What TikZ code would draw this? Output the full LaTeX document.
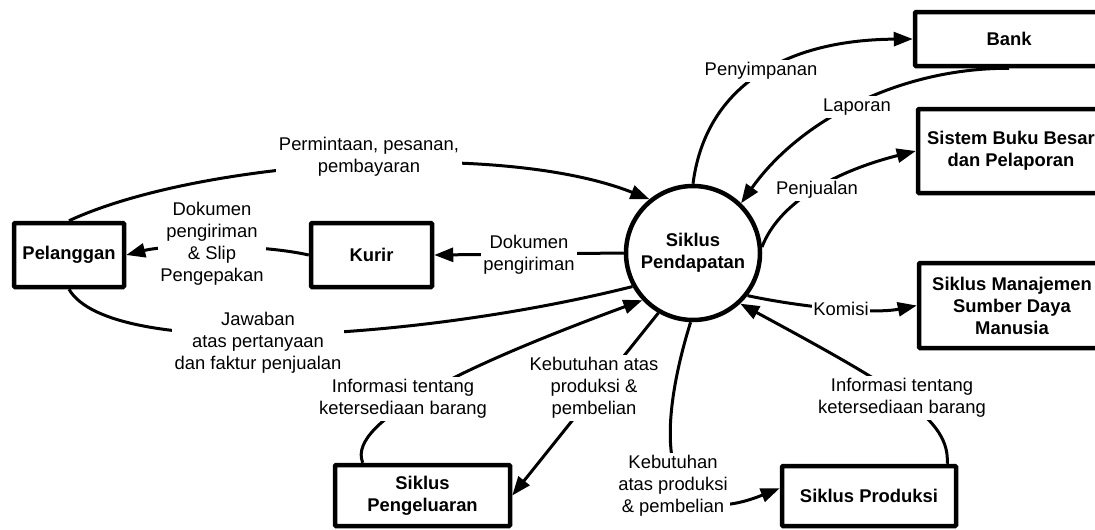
\documentclass[tikz,border=0pt]{standalone}
\usepackage{fontspec}
\setmainfont{Liberation Sans}
\usetikzlibrary{arrows.meta}
\begin{document}
\begin{tikzpicture}[x=1pt,y=-1pt,
  box/.style={draw, line width=4.5pt, rounded corners=1pt, align=center, inner sep=0pt,
    font=\bfseries\fontsize{18.4}{22}\selectfont},
  proc/.style={circle, draw, line width=4.5pt, minimum size=134pt, inner sep=0pt, align=center,
    font=\bfseries\fontsize{18.4}{22}\selectfont},
  lbl/.style={fill=white, inner sep=2.5pt, align=center, font=\fontsize{18.4}{22}\selectfont},
  flow/.style={line width=3pt, -{Triangle[length=19pt,width=14pt]}},
  plainflow/.style={line width=3pt}
]
\useasboundingbox (0,0) rectangle (1095,530);

% entities
\node[box, minimum width=110pt, minimum height=64pt] (pel) at (69,255) {Pelanggan};
\node[box, minimum width=121pt, minimum height=64pt] (kurir) at (371.5,255) {Kurir};
\node[box, minimum width=188pt, minimum height=54pt] (bank) at (1009,39) {Bank};
\node[box, minimum width=186pt, minimum height=84pt] (sbb) at (1011,151) {Sistem Buku Besar\\dan Pelaporan};
\node[box, minimum width=186pt, minimum height=85pt] (sdm) at (1012,305.5) {Siklus Manajemen\\Sumber Daya\\Manusia};
\node[box, minimum width=174pt, minimum height=60pt] (prod) at (869,496) {Siklus Produksi};
\node[box, minimum width=175pt, minimum height=61pt] (peng) at (422.5,495.5) {Siklus\\Pengeluaran};
\node[proc] (circ) at (693,253) {Siklus\\Pendapatan};

% connectors
\draw[flow] (circ.90) .. controls (705,90) and (780,40) .. (bank.west);
\draw[flow] (bank.south) .. controls (900,68) and (800,120) .. (circ.46);
\draw[flow] (circ.5) .. controls (780,200) and (840,170) .. (sbb.west);
\draw[flow] (circ.-38) .. controls (790,305) and (870,315) .. (sdm.west);
\draw[flow] ([xshift=-11pt]prod.north east) .. controls (950,420) and (900,390) .. (circ.-47);
\draw[flow] (circ.-92) .. controls (660,420) and (650,540) .. (prod.175);
\draw[flow] (circ.-120) -- (peng.east);
\draw[flow] ([xshift=30pt]peng.north west) .. controls (345,420) and (480,360) .. (circ.-137);
\draw[plainflow] (pel.south) .. controls (110,360) and (420,340) .. (circ.209);
\draw[flow] (pel.north) .. controls (200,160) and (500,140) .. (circ.129);
\draw[flow] (circ.west) -- (kurir.east);
\draw[flow] (kurir.west) .. controls (260,244) and (170,244) .. (pel.east);

% labels
\node[lbl] (lpeny) at (761,71) {Penyimpanan};
\node[lbl] (llap) at (857,107) {Laporan};
\node[lbl] (lpenj) at (817,190) {Penjualan};
\node[lbl, inner sep=1.5pt] (lkom) at (841,309) {Komisi};
\node[lbl] (linfor) at (902,398) {Informasi tentang\\ketersediaan barang};
\node[lbl] (lkebb) at (673,486) {Kebutuhan\\atas produksi\\\& pembelian};
\node[lbl] (lkebm) at (594,388) {Kebutuhan atas\\produksi \&\\pembelian};
\node[lbl] (linfol) at (403,399) {Informasi tentang\\ketersediaan barang};
\node[lbl] (ljaw) at (258,343) {Jawaban\\atas pertanyaan\\dan faktur penjualan};
\node[lbl] (lperm) at (369,157) {Permintaan, pesanan,\\pembayaran};
\node[lbl] (ldok) at (529,255) {Dokumen\\pengiriman};
\node[lbl] (ldoks) at (212,244) {Dokumen\\pengiriman\\\& Slip\\Pengepakan};
\end{tikzpicture}
\end{document}
